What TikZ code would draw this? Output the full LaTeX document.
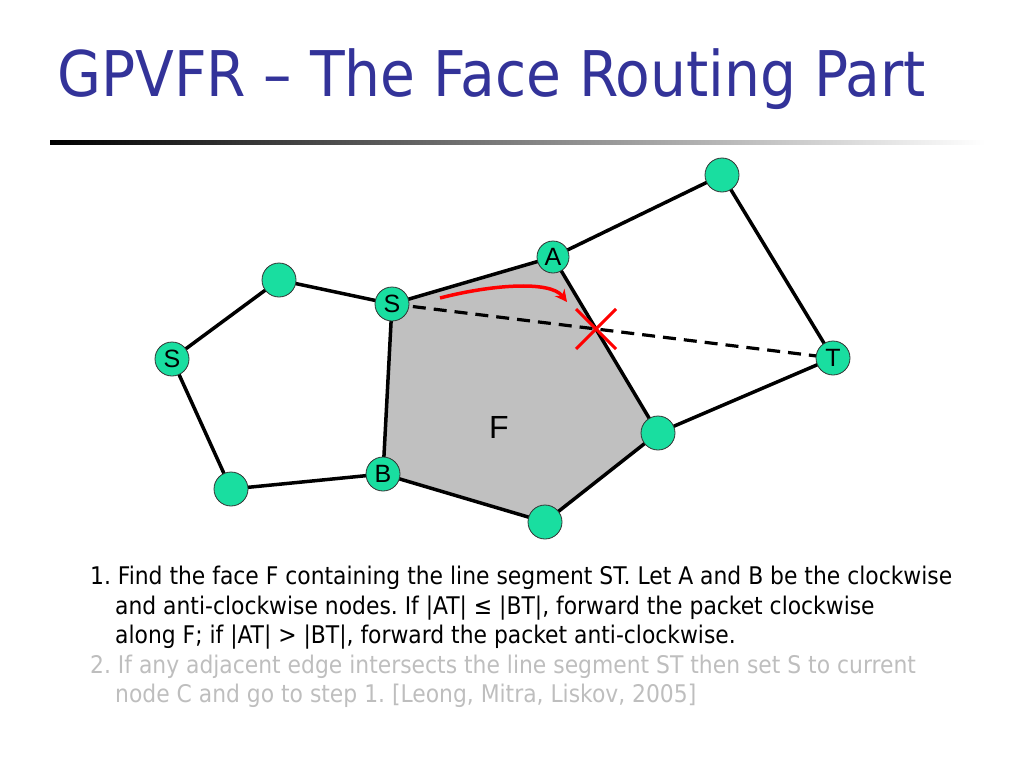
\documentclass[tikz,border=0pt]{standalone}
\usepackage{fontspec}
\setmainfont{DejaVu Sans Condensed}
\newfontfamily\arialf{Liberation Sans}
\usetikzlibrary{arrows.meta,calc}
\definecolor{titleblue}{RGB}{51,51,153}
\definecolor{nodegreen}{RGB}{25,222,160}
\definecolor{facegray}{RGB}{192,192,192}
\definecolor{lightgraytext}{RGB}{190,190,190}
\frenchspacing
\tikzset{
  vtx/.style={circle,draw=black!80,line width=0.8pt,fill=nodegreen,minimum size=34pt,inner sep=0pt,font=\arialf\fontsize{25}{25}\selectfont},
  vtxs/.style={vtx,minimum size=32pt},
  edge/.style={line width=3.5pt,black},
  stline/.style={line width=3.2pt,black,dash pattern=on 13pt off 8pt},
  redmark/.style={line width=3pt,red},
}
\begin{document}
\begin{tikzpicture}[x=1pt,y=-1pt]
\useasboundingbox (0,0) rectangle (1024,768);
% title
\node[anchor=base west,inner sep=0pt,text=titleblue,font=\fontsize{63}{63}\selectfont] (title) at (57,96) {GPVFR -- The Face Routing Part};
\shade[left color=black,right color=white] (50,140) rectangle (985,144);
% coordinates
\coordinate (pTR) at (722,175);
\coordinate (pA) at (553,257);
\coordinate (pS) at (392,304);
\coordinate (pLT) at (279,280);
\coordinate (pSL) at (172,359);
\coordinate (pB) at (383,474);
\coordinate (pBL) at (231,489);
\coordinate (pBot) at (545,522);
\coordinate (pRM) at (658,433);
\coordinate (pT) at (833,358);
% face
\fill[facegray] (pS) -- (pA) -- (pRM) -- (pBot) -- (pB) -- cycle;
\node[font=\arialf\fontsize{32}{32}\selectfont,inner sep=0pt] (F) at (499,427) {F};
% edges
\draw[edge] (pS) -- (pA) -- (pTR) -- (pT) -- (pRM) -- (pBot) -- (pB) -- (pS) -- (pLT) -- (pSL) -- (pBL) -- (pB);
\draw[edge] (pA) -- (pRM);
\draw[stline] (pS) -- (pT);
% red marks
\coordinate (X) at (596,329);
\draw[redmark] ($(X)+(-20,-20)$) -- ($(X)+(20,20)$);
\draw[redmark] ($(X)+(-20,20)$) -- ($(X)+(20,-20)$);
\coordinate (ra) at (440,298);
\coordinate (rb) at (567,302);
\draw[redmark,line width=3.5pt,-{Stealth[length=12pt,width=12pt]}] (ra) .. controls (490,285) and (550,280) .. (rb);
% nodes
\node[vtx] (nTR) at (pTR) {};
\node[vtxs] (nA) at (pA) {A};
\node[vtx] (nS) at (pS) {S};
\node[vtx] (nLT) at (pLT) {};
\node[vtx] (nSL) at (pSL) {S};
\node[vtx] (nB) at (pB) {B};
\node[vtx] (nBL) at (pBL) {};
\node[vtx] (nBot) at (pBot) {};
\node[vtx] (nRM) at (pRM) {};
\node[vtx] (nT) at (pT) {T};
% text
\begin{scope}[every node/.style={anchor=base west,inner sep=0pt,font=\fontsize{24.3}{24}\selectfont}]
\node (l1) at (90,584) {1. Find the face F containing the line segment ST. Let A and B be the clockwise};
\node (l2) at (115,614) {and anti-clockwise nodes. If |AT| ≤ |BT|, forward the packet clockwise};
\node (l3) at (115,643) {along F; if |AT| > |BT|, forward the packet anti-clockwise.};
\node[text=lightgraytext] (l4) at (90,673) {2. If any adjacent edge intersects the line segment ST then set S to current};
\node[text=lightgraytext] (l5) at (115,702) {node C and go to step 1. [Leong, Mitra, Liskov, 2005]};
\end{scope}
\end{tikzpicture}
\end{document}
